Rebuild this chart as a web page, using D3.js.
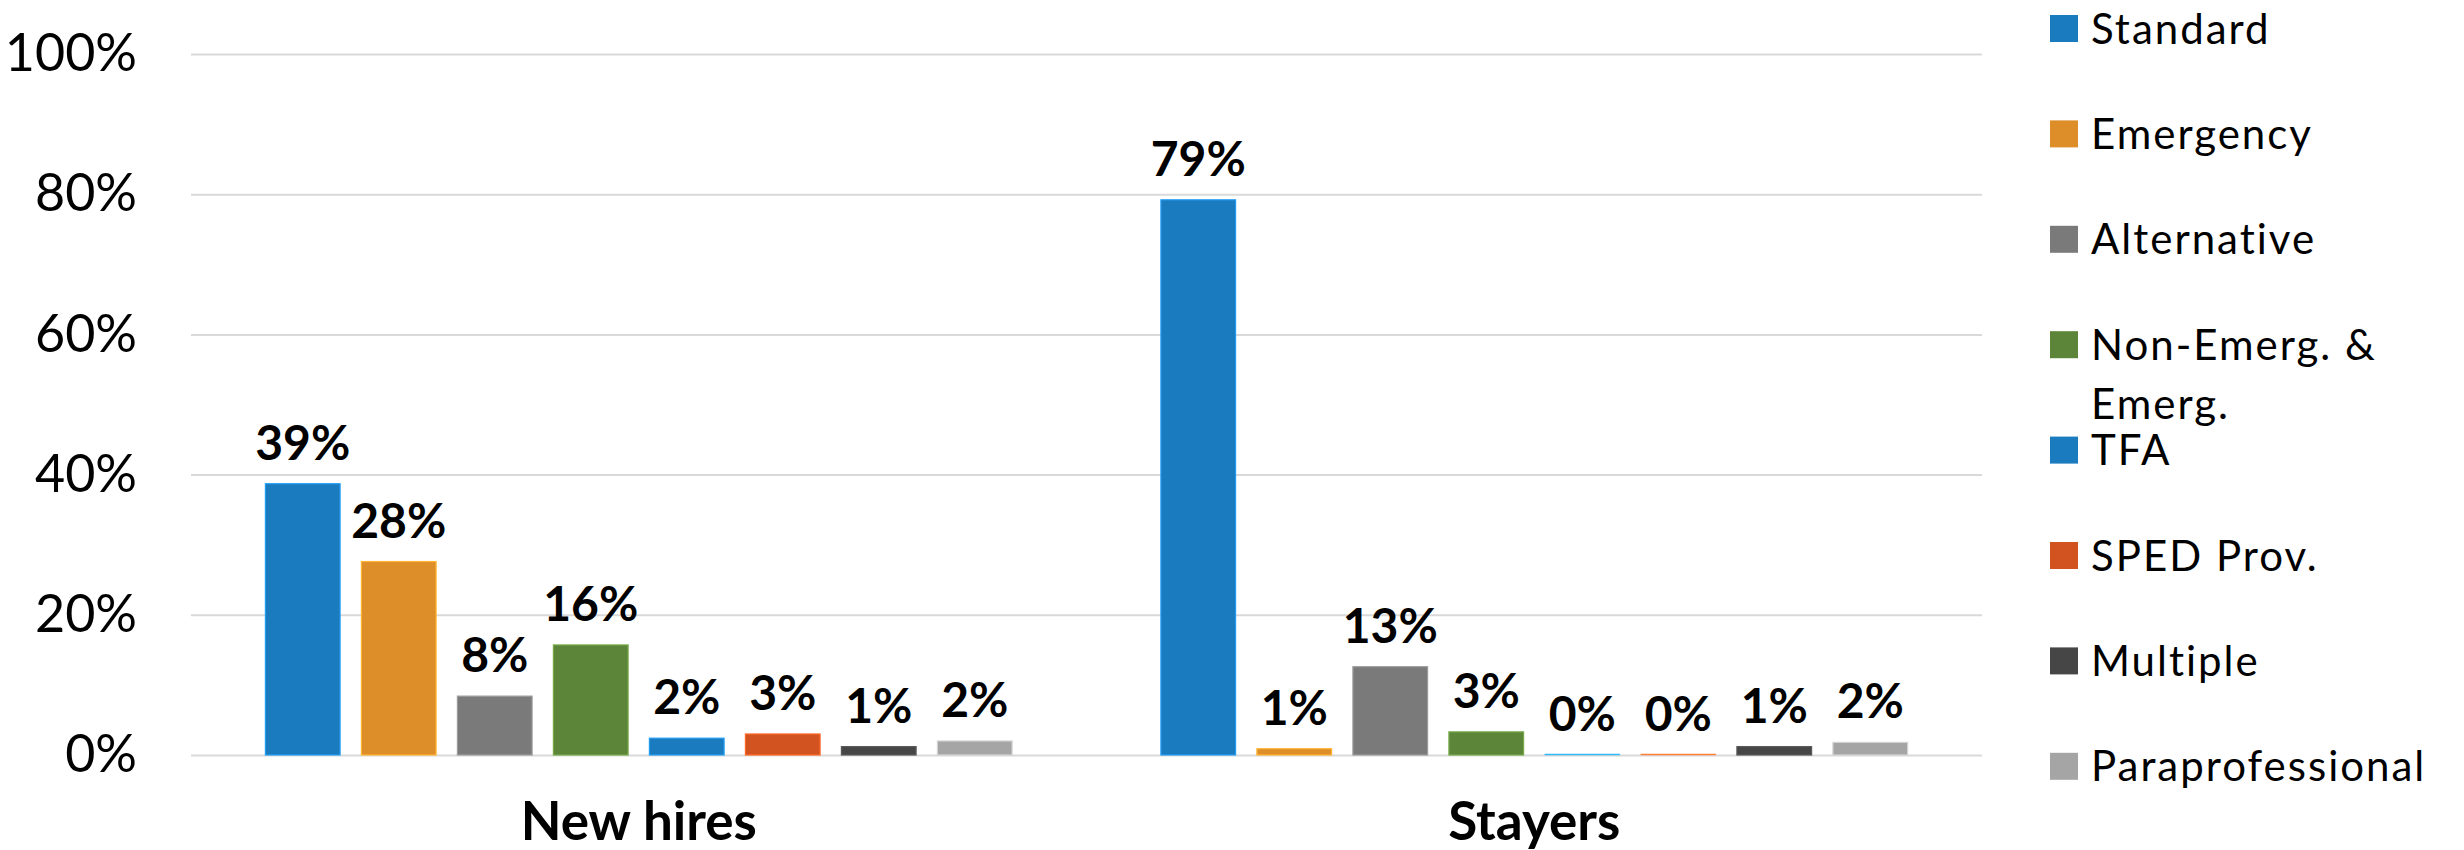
<!DOCTYPE html>
<meta charset="utf-8">
<html>
<head>
<title>Credential types</title>
<style>
    body { margin: 0; background: #fff; }
    .tick text { font-family: Lato, "Open Sans", sans-serif; font-size: 52px; fill: #000; }
    .tick line { stroke: #d9d9d9; stroke-width: 2px; }
    .barlabel { font-family: Lato, sans-serif; font-weight: bold; font-size: 48px; fill: #000; }
    .catlabel { font-family: Lato, sans-serif; font-weight: bold; font-size: 53px; fill: #000; }
    .legend text { font-family: Lato, sans-serif; font-size: 42px; letter-spacing: 2px; fill: #000; }
</style>
<script src="https://cdn.jsdelivr.net/npm/d3@7"></script>
</head>
<body>
<script>

    var width = 2464, height = 850;

    // chart values
    var categories = ["New hires", "Stayers"];
    var series = ["Standard", "Emergency", "Alternative", "Non-Emerg. & Emerg.",
                  "TFA", "SPED Prov.", "Multiple", "Paraprofessional"];
    var colors = ["#1b7bbf", "#de8e29", "#7a7a7a", "#5d8539",
                  "#1b7bbf", "#d25320", "#464646", "#a5a5a5"];
    var newHires = [38.7, 27.6, 8.4, 15.7, 2.4, 3.0, 1.2, 2.0];
    var stayers  = [79.2, 0.9, 12.6, 3.3, 0.0, 0.0, 1.2, 1.8];
    var yTicks = [0, 20, 40, 60, 80, 100];

    var values = [newHires, stayers];

    var plotLeft = 191, plotRight = 1982, plotTop = 54, plotBottom = 755;

    var svg = d3.select("body").append("svg")
        .attr("width", width)
        .attr("height", height);

    var y = d3.scaleLinear().domain([0, 100]).range([plotBottom, plotTop]);

    var x0 = d3.scaleBand().domain(categories).range([plotLeft, plotRight]);

    // bars inside a group: step ~96px, gap ~21px
    var x1 = d3.scaleBand().domain(series)
        .range([0, x0.bandwidth()])
        .paddingInner(0.222)
        .paddingOuter(0.775);

    // gridlines + y tick labels
    svg.append("g")
        .attr("transform", "translate(" + plotLeft + ",0)")
        .call(d3.axisLeft(y)
            .tickValues(yTicks)
            .tickFormat(function(d) { return d + "%"; })
            .tickSize(-(plotRight - plotLeft))
            .tickPadding(54))
        .call(function(g) { g.select(".domain").remove(); });

    var groups = svg.selectAll("g.group")
        .data(categories)
        .enter().append("g")
        .attr("class", "group")
        .attr("transform", function(d) { return "translate(" + x0(d) + ",0)"; });

    var cells = function(c, i) {
        return series.map(function(s, j) {
            return {cat: c, key: s, value: values[i][j], color: colors[j]};
        });
    };

    // zero bars still show as a faint edge line, like the original
    groups.selectAll("rect")
        .data(cells)
        .enter().append("rect")
        .attr("x", function(d) { return x1(d.key); })
        .attr("y", function(d) { return Math.min(y(d.value), y(0) - 1); })
        .attr("width", x1.bandwidth())
        .attr("height", function(d) { return Math.max(y(0) - y(d.value), 1); })
        .style("fill", function(d) { return d.value > 0 ? d.color : d3.color(d.color).brighter(1.5); })
        .style("stroke", function(d) { return d3.color(d.color).brighter(0.7); })
        .style("stroke-opacity", function(d) { return d.value > 0 ? 1 : 0.35; })
        .style("stroke-width", "1.2px");

    groups.selectAll("text.barlabel")
        .data(cells)
        .enter().append("text")
        .attr("class", "barlabel")
        .attr("x", function(d) { return x1(d.key) + x1.bandwidth() / 2; })
        .attr("y", function(d) { return y(d.value) - 24; })
        .attr("text-anchor", "middle")
        .text(function(d) { return Math.round(d.value) + "%"; });

    // category labels under the axis
    svg.selectAll("text.catlabel")
        .data(categories)
        .enter().append("text")
        .attr("class", "catlabel")
        .attr("x", function(d) { return x0(d) + x0.bandwidth() / 2; })
        .attr("y", 840)
        .attr("text-anchor", "middle")
        .text(function(d) { return d; });

    // legend, one entry per series, long names wrap after "&"
    var legend = svg.append("g")
        .attr("class", "legend")
        .attr("transform", "translate(2050,15)");

    var item = legend.selectAll("g")
        .data(series)
        .enter().append("g")
        .attr("transform", function(d, i) { return "translate(0," + (i * 105.4) + ")"; });

    item.append("rect")
        .attr("width", 28)
        .attr("height", 27)
        .style("fill", function(d, i) { return colors[i]; });

    item.append("text")
        .attr("x", 41)
        .attr("y", 13.5)
        .each(function(d) {
            var lines = d.indexOf("&") > 0 ? [d.slice(0, d.indexOf("&") + 1), d.slice(d.indexOf("&") + 2)] : [d];
            var t = d3.select(this);
            lines.forEach(function(line, k) {
                t.append("tspan")
                    .attr("x", 41)
                    .attr("dy", k == 0 ? "0.36em" : "59px")
                    .text(line);
            });
        });

</script>
</body>
</html>
